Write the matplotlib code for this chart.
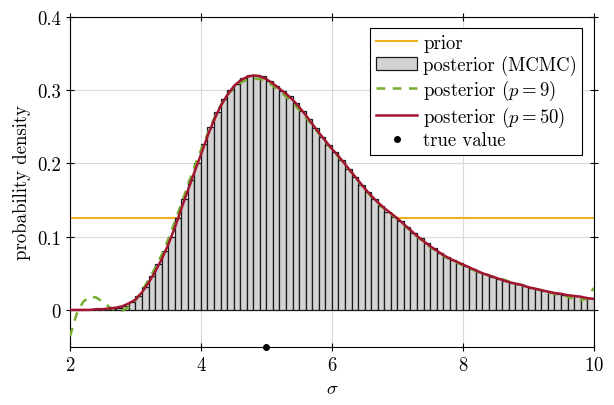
import numpy as np
import matplotlib
matplotlib.use('Agg')
import matplotlib.pyplot as plt

plt.rcParams['font.family'] = ['cmr10', 'DejaVu Serif']
plt.rcParams['mathtext.fontset'] = 'cm'
plt.rcParams['axes.formatter.use_mathtext'] = True
plt.rcParams['font.size'] = 13.5

# grid of sigma values for the curves
sigma = [2.0, 2.1, 2.2, 2.3, 2.4, 2.5, 2.6, 2.7, 2.8, 2.9,
         3.0, 3.1, 3.2, 3.3, 3.4, 3.5, 3.6, 3.7, 3.8, 3.9,
         4.0, 4.1, 4.2, 4.3, 4.4, 4.5, 4.6, 4.7, 4.8, 4.9,
         5.0, 5.1, 5.2, 5.3, 5.4, 5.5, 5.6, 5.7, 5.8, 5.9,
         6.0, 6.1, 6.2, 6.3, 6.4, 6.5, 6.6, 6.7, 6.8, 6.9,
         7.0, 7.1, 7.2, 7.3, 7.4, 7.5, 7.6, 7.7, 7.8, 7.9,
         8.0, 8.1, 8.2, 8.3, 8.4, 8.5, 8.6, 8.7, 8.8, 8.9,
         9.0, 9.1, 9.2, 9.3, 9.4, 9.5, 9.6, 9.7, 9.8, 9.9, 10.0]

post_p50 = [0.000, 0.000, 0.000, 0.000, 0.001, 0.001, 0.002, 0.003, 0.005, 0.009,
            0.014, 0.024, 0.037, 0.052, 0.069, 0.089, 0.112, 0.138, 0.163, 0.188,
            0.212, 0.237, 0.259, 0.278, 0.293, 0.305, 0.313, 0.318, 0.320, 0.319,
            0.315, 0.309, 0.302, 0.295, 0.287, 0.277, 0.266, 0.254, 0.242, 0.231,
            0.220, 0.210, 0.199, 0.188, 0.177, 0.166, 0.156, 0.147, 0.139, 0.132,
            0.125, 0.117, 0.109, 0.101, 0.094, 0.087, 0.081, 0.075, 0.070, 0.066,
            0.062, 0.058, 0.054, 0.050, 0.047, 0.044, 0.041, 0.038, 0.036, 0.034,
            0.031, 0.029, 0.027, 0.025, 0.023, 0.022, 0.020, 0.019, 0.018, 0.016, 0.015]

post_p9 = [-0.036, -0.006, 0.011, 0.018, 0.017, 0.011, 0.004, -0.001, -0.001, 0.004,
           0.013, 0.026, 0.041, 0.057, 0.075, 0.096, 0.120, 0.145, 0.170, 0.195,
           0.218, 0.240, 0.261, 0.279, 0.293, 0.303, 0.310, 0.314, 0.316, 0.315,
           0.312, 0.306, 0.299, 0.291, 0.283, 0.273, 0.263, 0.252, 0.241, 0.230,
           0.219, 0.209, 0.198, 0.187, 0.176, 0.165, 0.155, 0.146, 0.138, 0.131,
           0.124, 0.116, 0.108, 0.100, 0.093, 0.086, 0.080, 0.074, 0.069, 0.065,
           0.061, 0.057, 0.053, 0.050, 0.047, 0.044, 0.042, 0.039, 0.036, 0.034,
           0.031, 0.029, 0.026, 0.024, 0.022, 0.021, 0.018, 0.015, 0.013, 0.016, 0.030]

# MCMC histogram, bin width 0.1 from 2 to 10
bin_edges = [2.0 + 0.1 * i for i in range(81)]
bar_heights = [0.000, 0.000, 0.000, 0.000, 0.000, 0.000, 0.001, 0.003, 0.006, 0.011,
               0.019, 0.031, 0.046, 0.062, 0.080, 0.100, 0.126, 0.152, 0.177, 0.201,
               0.226, 0.250, 0.270, 0.288, 0.300, 0.309, 0.316, 0.320, 0.321, 0.319,
               0.313, 0.306, 0.299, 0.292, 0.283, 0.271, 0.260, 0.248, 0.236, 0.225,
               0.215, 0.204, 0.193, 0.182, 0.171, 0.161, 0.151, 0.142, 0.134, 0.127,
               0.121, 0.113, 0.105, 0.098, 0.091, 0.084, 0.078, 0.072, 0.068, 0.064,
               0.060, 0.056, 0.052, 0.049, 0.045, 0.042, 0.040, 0.037, 0.035, 0.032,
               0.030, 0.028, 0.026, 0.024, 0.022, 0.021, 0.020, 0.019, 0.017, 0.016]

prior_x = [2, 10]
prior_y = [0.125, 0.125]
true_sigma = 5
xticks = [2, 4, 6, 8, 10]
yticks = [0, 0.1, 0.2, 0.3, 0.4]
ytick_labels = ['0', '0.1', '0.2', '0.3', '0.4']

fig = plt.figure(figsize=(6.14, 4.06), dpi=100)
ax = fig.add_axes([0.114, 0.144, 0.853, 0.812])

h_prior, = ax.plot(prior_x, prior_y, color='#EDB120', lw=1.5, label='prior', zorder=2)
h_bar = ax.bar(bin_edges[:-1], bar_heights, width=0.1, align='edge', color='#d3d3d3',
               edgecolor='#1a1a1a', linewidth=0.9, label='posterior (MCMC)', zorder=3)
h_p9, = ax.plot(sigma, post_p9, color='#77AC30', lw=1.8, ls=(0, (3.5, 3)),
                label='posterior ($p=9$)', zorder=4)
h_p50, = ax.plot(sigma, post_p50, color='#A2142F', lw=1.8,
                 label='posterior ($p=50$)', zorder=5)
h_true, = ax.plot([true_sigma], [-0.05], 'o', color='black', ms=4, clip_on=False,
                  label='true value', zorder=6)

ax.set_xlim(2, 10)
ax.set_ylim(-0.05, 0.4)
ax.set_xticks(xticks)
ax.set_yticks(yticks)
ax.set_yticklabels(ytick_labels)
ax.set_xlabel(r'$\sigma$')
ax.set_ylabel('probability density')
ax.grid(True, color='#d9d9d9', lw=0.8, zorder=0)
ax.set_axisbelow(True)
ax.tick_params(direction='inout', length=6, top=True, right=True, width=0.8)
for s in ax.spines.values():
    s.set_linewidth(0.8)

leg = ax.legend([h_prior, h_bar, h_p9, h_p50, h_true],
                [h.get_label() for h in [h_prior, h_bar, h_p9, h_p50, h_true]],
                loc='upper right', fancybox=False, framealpha=1, edgecolor='black',
                fontsize=13.5, borderaxespad=0.6, handlelength=2.2, labelspacing=0.15,
                handletextpad=0.3, borderpad=0.3)
leg.get_frame().set_linewidth(0.8)

fig.savefig('out.png', dpi=100)
